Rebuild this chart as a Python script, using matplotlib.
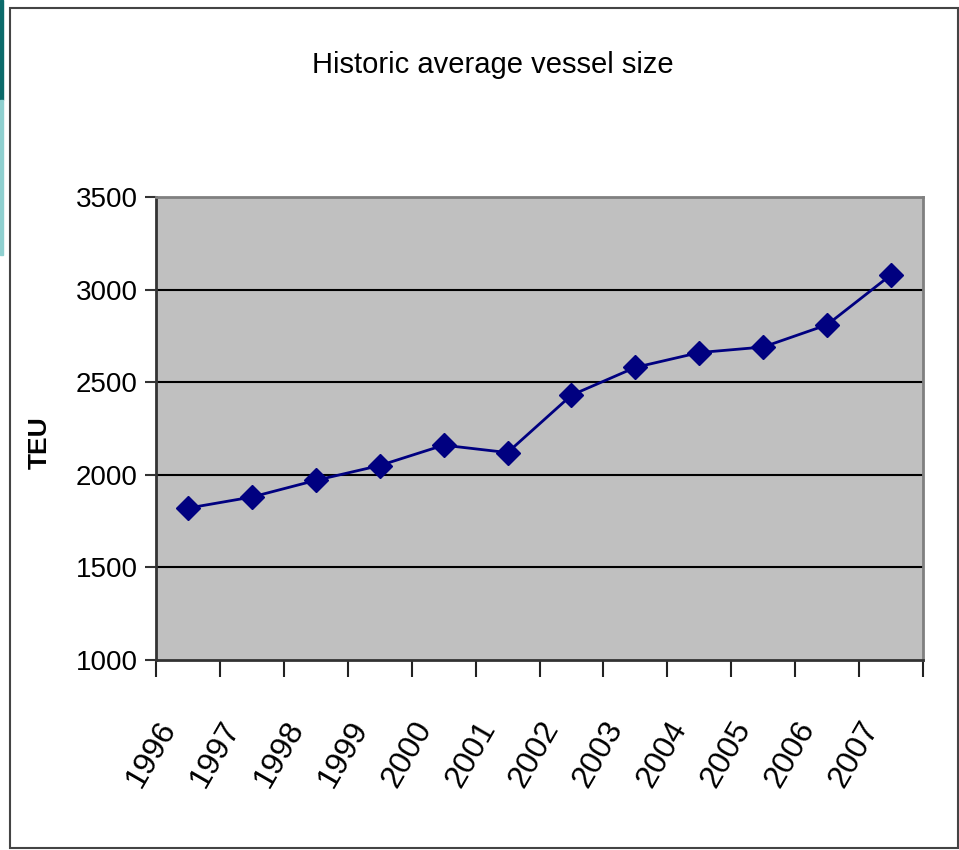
import numpy as np
import matplotlib.pyplot as plt
from matplotlib.patches import Rectangle
from matplotlib.ticker import FixedLocator
from matplotlib.transforms import ScaledTranslation

# Data
years = ['1996', '1997', '1998', '1999', '2000', '2001',
         '2002', '2003', '2004', '2005', '2006', '2007']
teu = [1820, 1880, 1970, 2050, 2160, 2120,
       2430, 2580, 2660, 2690, 2810, 3080]
y_ticks = [1000, 1500, 2000, 2500, 3000, 3500]

font = ['Liberation Sans', 'DejaVu Sans']

fig = plt.figure(figsize=(9.59, 8.5), dpi=100)

# Slide decoration: teal strip on the left and frame around the chart
fig.patches.append(Rectangle((0, 1 - 100/850), 3/959, 100/850, transform=fig.transFigure,
                             color='#0b6a6a', zorder=0))
fig.patches.append(Rectangle((0, 1 - 255/850), 3/959, 155/850, transform=fig.transFigure,
                             color='#8fd0d0', zorder=0))
fig.patches.append(Rectangle((10/959, 2/850), 948/959, 840/850, transform=fig.transFigure,
                             fill=False, edgecolor='#444444', linewidth=1.5, zorder=0))

ax = fig.add_axes([156/959, 1 - 660/850, 767/959, 463/850])
ax.set_facecolor('#c0c0c0')

x = np.arange(len(years))
ax.plot(x, teu, color='#000080', linewidth=2, marker='D', markersize=12,
        markerfacecolor='#000080', markeredgecolor='#000080', zorder=3)

ax.set_xlim(-0.5, len(years) - 0.5)
ax.set_ylim(1000, 3500)

# y axis
ax.set_yticks(y_ticks)
ax.set_yticklabels([str(v) for v in y_ticks], fontfamily=font, fontsize=20)
ax.tick_params(axis='y', direction='out', length=8, width=1.5, color='#333333', pad=5)
for v in y_ticks[1:-1]:
    ax.axhline(v, color='black', linewidth=1.5, zorder=1)

# x axis: ticks at category boundaries, labels at centres
ax.xaxis.set_major_locator(FixedLocator(np.arange(-0.5, len(years), 1.0)))
ax.xaxis.set_major_formatter(plt.NullFormatter())
ax.tick_params(axis='x', which='major', direction='out', length=12, width=1.5, color='#222222')
ax.xaxis.set_minor_locator(FixedLocator(x))
ax.set_xticklabels(years, minor=True, fontfamily=font, fontsize=23,
                   rotation=60, ha='right', rotation_mode='anchor')
ax.tick_params(axis='x', which='minor', length=0, pad=40)
shift = ScaledTranslation(-0.32, 0, fig.dpi_scale_trans)
for lbl in ax.get_xticklabels(minor=True):
    lbl.set_transform(lbl.get_transform() + shift)

for side in ['left', 'bottom']:
    ax.spines[side].set_color('#333333')
    ax.spines[side].set_linewidth(2)
for side in ['top', 'right']:
    ax.spines[side].set_color('#808080')
    ax.spines[side].set_linewidth(2)

ax.set_ylabel('TEU', fontfamily=font, fontsize=19, fontweight='bold')
ax.yaxis.set_label_coords((52 - 156) / 767, 0.47)

fig.text(493/959, 1 - 65/850, 'Historic average vessel size', fontfamily=font,
         fontsize=21, ha='center', va='center')

fig.savefig('out.png', dpi=100)
